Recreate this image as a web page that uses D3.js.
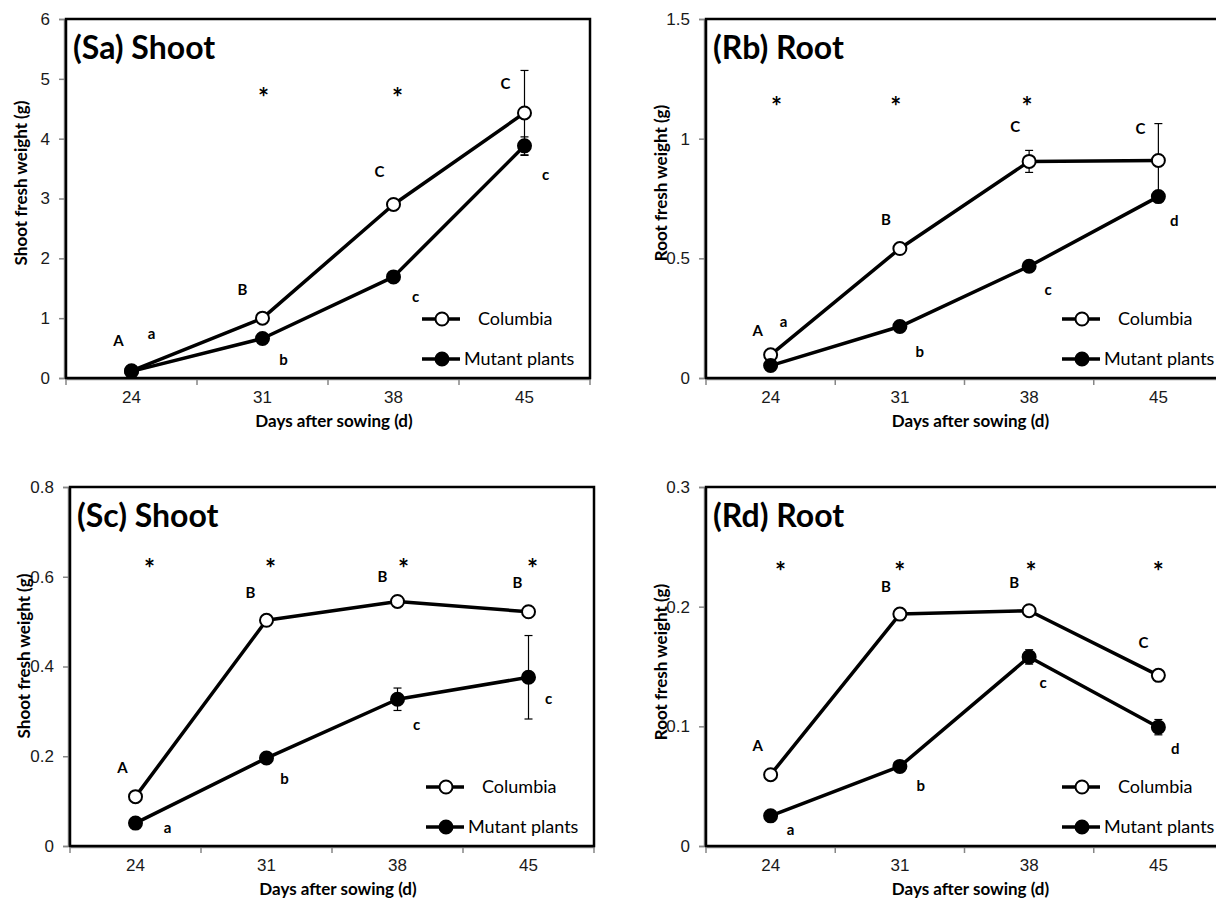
<!DOCTYPE html>
<html>
<head>
<meta charset="utf-8">
<script src="https://cdn.jsdelivr.net/npm/d3@7"></script>
<style>
  body { margin: 0; background: #fff; }
  svg { display: block; font-family: Lato, "Open Sans", sans-serif; }
</style>
</head>
<body>
<svg id="chart" width="1216" height="901"></svg>
<script>
// categories
const days = ["24", "31", "38", "45"];

// (Sa) shoot
const saColumbia = [0.12, 1.0, 2.9, 4.43];
const saColumbiaErr = [0, 0, 0, 0.71];
const saMutant = [0.11, 0.66, 1.69, 3.88];
const saMutantErr = [0, 0, 0, 0.15];
const saColLetters = ["A", "B", "C", "C"];
const saMutLetters = ["a", "b", "c", "c"];
const saStars = [false, true, true, false];
const saTicks = [0, 1, 2, 3, 4, 5, 6];

// (Rb) root
const rbColumbia = [0.097, 0.541, 0.905, 0.909];
const rbColumbiaErr = [0, 0, 0.046, 0.154];
const rbMutant = [0.052, 0.215, 0.467, 0.758];
const rbMutantErr = [0, 0, 0, 0];
const rbColLetters = ["A", "B", "C", "C"];
const rbMutLetters = ["a", "b", "c", "d"];
const rbStars = [true, true, true, false];
const rbTicks = [0, 0.5, 1, 1.5];

// (Sc) shoot
const scColumbia = [0.11, 0.503, 0.545, 0.522];
const scColumbiaErr = [0, 0, 0, 0];
const scMutant = [0.051, 0.196, 0.327, 0.376];
const scMutantErr = [0, 0, 0.025, 0.093];
const scColLetters = ["A", "B", "B", "B"];
const scMutLetters = ["a", "b", "c", "c"];
const scStars = [true, true, true, true];
const scTicks = [0, 0.2, 0.4, 0.6, 0.8];

// (Rd) root
const rdColumbia = [0.0596, 0.1938, 0.1966, 0.1426];
const rdColumbiaErr = [0, 0, 0, 0];
const rdMutant = [0.0252, 0.0665, 0.158, 0.0993];
const rdMutantErr = [0, 0, 0.006, 0.0064];
const rdColLetters = ["A", "B", "B", "C"];
const rdMutLetters = ["a", "b", "c", "d"];
const rdStars = [true, true, true, true];
const rdTicks = [0, 0.1, 0.2, 0.3];

const legendNames = ["Columbia", "Mutant plants"];

// layout of each panel (pixels)
const panels = [
  { title: "(Sa) Shoot", ylabel: "Shoot fresh weight (g)", left: 66, top: 19, width: 524, height: 359,
    ticks: saTicks, col: saColumbia, colErr: saColumbiaErr, mut: saMutant, mutErr: saMutantErr,
    colLet: saColLetters, mutLet: saMutLetters, stars: saStars, starLevel: 4.84,
    colOff: [[-13, -30], [-20, -28], [-14, -33], [-19, -29]],
    mutOff: [[20, -38], [21, 21], [22, 20], [21, 29]],
    starDx: [0, 1, 4, 0], ytitle: [21, 183] },
  { title: "(Rb) Root", ylabel: "Root fresh weight (g)", left: 706, top: 19, width: 517, height: 359,
    ticks: rbTicks, col: rbColumbia, colErr: rbColumbiaErr, mut: rbMutant, mutErr: rbMutantErr,
    colLet: rbColLetters, mutLet: rbMutLetters, stars: rbStars, starLevel: 1.171,
    colOff: [[-13, -24], [-14, -29], [-14, -35], [-18, -32]],
    mutOff: [[13, -44], [20, 25], [19, 24], [16, 24]],
    starDx: [6, -4, -2, 0], ytitle: [661, 183] },
  { title: "(Sc) Shoot", ylabel: "Shoot fresh weight (g)", left: 70, top: 487, width: 524, height: 359,
    ticks: scTicks, col: scColumbia, colErr: scColumbiaErr, mut: scMutant, mutErr: scMutantErr,
    colLet: scColLetters, mutLet: scMutLetters, stars: scStars, starLevel: 0.639,
    colOff: [[-13, -29], [-16, -28], [-15, -25], [-11, -29]],
    mutOff: [[32, 5], [18, 21], [19, 25], [20, 21]],
    starDx: [14, 4, 6, 4], ytitle: [24, 656] },
  { title: "(Rd) Root", ylabel: "Root fresh weight (g)", left: 706, top: 487, width: 517, height: 359,
    ticks: rdTicks, col: rdColumbia, colErr: rdColumbiaErr, mut: rdMutant, mutErr: rdMutantErr,
    colLet: rdColLetters, mutLet: rdMutLetters, stars: rdStars, starLevel: 0.237,
    colOff: [[-13, -29], [-14, -27], [-15, -28], [-15, -33]],
    mutOff: [[20, 14], [21, 19], [14, 26], [17, 22]],
    starDx: [10, 0, 2, 0], ytitle: [661, 662] }
];

const svg = d3.select("#chart");
const axisGray = "#868686";
const fmt = d3.format("~g");

function drawPanel(p) {
  const g = svg.append("g").attr("transform", `translate(${p.left},${p.top})`);

  const x = d3.scaleBand().domain(days).range([0, p.width]);
  const y = d3.scaleLinear().domain([0, d3.max(p.ticks)]).range([p.height, 0]);
  const cx = d => x(d) + x.bandwidth() / 2;

  // y axis (gray, ticks outside)
  const yAxis = g.append("g").attr("transform", "translate(-2,0)")
    .call(d3.axisLeft(y).tickValues(p.ticks).tickFormat(fmt).tickSize(5).tickPadding(9));
  yAxis.select(".domain").attr("stroke", axisGray).attr("stroke-width", 1.5);
  yAxis.selectAll(".tick line").attr("stroke", axisGray).attr("stroke-width", 1.5);
  yAxis.selectAll(".tick text").attr("fill", "#1a1a1a").style("font-size", "17px");

  // x axis: tick marks at category boundaries
  const xAxis = g.append("g").attr("transform", `translate(0,${p.height + 1})`)
    .call(d3.axisBottom(x).tickSize(0).tickPadding(12));
  xAxis.select(".domain").attr("stroke", axisGray).attr("stroke-width", 1.5);
  xAxis.selectAll(".tick text").attr("fill", "#1a1a1a").style("font-size", "17px");
  const bounds = days.map(d => x(d)).concat([p.width]);
  xAxis.selectAll(".sep").data(bounds).enter().append("line")
    .attr("x1", d => d).attr("x2", d => d).attr("y1", 0).attr("y2", 6)
    .attr("stroke", axisGray).attr("stroke-width", 1.5);

  // plot border
  g.append("rect").attr("width", p.width).attr("height", p.height)
    .attr("fill", "none").attr("stroke", "#000").attr("stroke-width", 2.5);

  // axis titles
  g.append("text").attr("x", p.width / 2 + 6).attr("y", p.height + 49)
    .attr("text-anchor", "middle").style("font-size", "17px").style("font-weight", "bold")
    .text("Days after sowing (d)");
  svg.append("text")
    .attr("transform", `translate(${p.ytitle[0]},${p.ytitle[1]}) rotate(-90)`)
    .attr("text-anchor", "middle").attr("dy", "0.35em")
    .style("font-size", "17px").style("font-weight", "bold").text(p.ylabel);

  // panel title
  g.append("text").attr("x", 7).attr("y", 40).style("font-size", "32px").style("font-weight", "bold")
    .text(p.title);

  const line = d3.line().x((v, i) => cx(days[i])).y(v => y(v));
  const series = [
    { vals: p.col, err: p.colErr, fill: "#fff", letters: p.colLet, off: p.colOff },
    { vals: p.mut, err: p.mutErr, fill: "#000", letters: p.mutLet, off: p.mutOff }
  ];

  series.forEach(s => {
    g.append("path").attr("d", line(s.vals)).attr("fill", "none")
      .attr("stroke", "#000").attr("stroke-width", 3.5).attr("stroke-linejoin", "round");
  });

  // error bars
  series.forEach(s => {
    s.vals.forEach((v, i) => {
      if (!s.err[i]) return;
      const xx = cx(days[i]);
      const y1 = y(v + s.err[i]), y2 = y(v - s.err[i]);
      const eg = g.append("g").attr("stroke", "#000").attr("stroke-width", 1.2);
      eg.append("line").attr("x1", xx).attr("x2", xx).attr("y1", y1).attr("y2", y2);
      eg.append("line").attr("x1", xx - 4).attr("x2", xx + 4).attr("y1", y1).attr("y2", y1);
      eg.append("line").attr("x1", xx - 4).attr("x2", xx + 4).attr("y1", y2).attr("y2", y2);
    });
  });

  // markers
  series.forEach(s => {
    g.selectAll(null).data(s.vals).enter().append("circle")
      .attr("cx", (v, i) => cx(days[i])).attr("cy", v => y(v)).attr("r", 6.5)
      .attr("fill", s.fill).attr("stroke", "#000").attr("stroke-width", 2);
  });

  // significance letters
  series.forEach(s => {
    g.selectAll(null).data(s.vals).enter().append("text")
      .attr("x", (v, i) => cx(days[i]) + s.off[i][0])
      .attr("y", (v, i) => y(v) + s.off[i][1])
      .attr("dy", "0.35em").attr("text-anchor", "middle")
      .style("font-size", "15px").style("font-weight", "bold")
      .text((v, i) => s.letters[i]);
  });

  // asterisks
  g.selectAll(null).data(days.filter((d, i) => p.stars[i])).enter().append("text")
    .attr("x", d => cx(d) + p.starDx[days.indexOf(d)])
    .attr("y", y(p.starLevel)).attr("dy", "0.72em").attr("text-anchor", "middle")
    .style("font-size", "26px").style("font-weight", "bold").text("*");

  // legend
  const lg = g.append("g").attr("transform", "translate(356,300)");
  legendNames.forEach((name, i) => {
    const row = lg.append("g").attr("transform", `translate(0,${i * 40})`);
    row.append("line").attr("x1", 0).attr("x2", 38).attr("stroke", "#000").attr("stroke-width", 3.5);
    row.append("circle").attr("cx", 20).attr("r", 6.5)
      .attr("fill", i === 0 ? "#fff" : "#000").attr("stroke", "#000").attr("stroke-width", 2);
    row.append("text").attr("x", i === 0 ? 56 : 42).attr("dy", "0.35em")
      .style("font-size", "18px").text(name);
  });
}

panels.forEach(drawPanel);
</script>
</body>
</html>
